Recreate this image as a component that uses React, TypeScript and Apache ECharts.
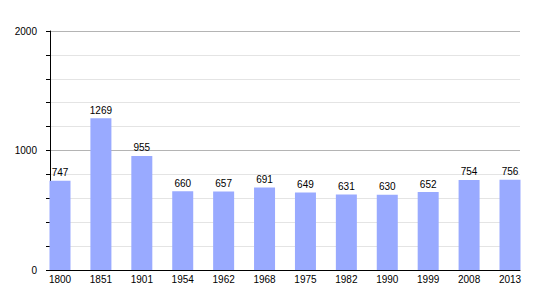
import React, { useEffect, useRef } from "react";
import * as echarts from "echarts";

const categories = ["1800", "1851", "1901", "1954", "1962", "1968", "1975", "1982", "1990", "1999", "2008", "2013"];
const population = [747, 1269, 955, 660, 657, 691, 649, 631, 630, 652, 754, 756];
const yMin = 0;
const yMax = 2000;
const yInterval = 1000;

export default function App() {
  const ref = useRef<HTMLDivElement>(null);
  useEffect(() => {
    if (!ref.current) return;
    const chart = echarts.init(ref.current, undefined, { renderer: "svg" });
    const font = "'Liberation Sans', Arial, sans-serif";
    chart.setOption({
      animation: false,
      backgroundColor: "#ffffff",
      textStyle: { fontFamily: font },
      grid: [
        { left: 50, right: 30, top: 31, bottom: 30, containLabel: false },
        { left: 60, right: 40, top: 31, bottom: 30, containLabel: false },
      ],
      xAxis: [
        {
          gridIndex: 0,
          type: "value",
          min: 0,
          max: 1,
          axisLine: { show: true, onZero: false, lineStyle: { color: "#000", width: 1 } },
          axisTick: { show: false },
          axisLabel: { show: false },
          splitLine: { show: false },
        },
        {
          gridIndex: 1,
          type: "category",
          data: categories,
          boundaryGap: false,
          axisLine: { show: false },
          axisTick: { show: false },
          axisLabel: { color: "#000", fontSize: 10, margin: 4, fontFamily: font },
          splitLine: { show: false },
        },
      ],
      yAxis: [
        {
          gridIndex: 0,
          type: "value",
          min: yMin,
          max: yMax,
          interval: yInterval,
          axisLine: { show: true, lineStyle: { color: "#000", width: 1 } },
          axisTick: { show: true, length: 4, lineStyle: { color: "#000" } },
          minorTick: { show: true, splitNumber: 5, length: 4, lineStyle: { color: "#000" } },
          axisLabel: {
            color: "#000",
            fontSize: 10,
            margin: 13,
            fontFamily: font,
            formatter: (v: number) => String(v),
          },
          splitLine: { show: true, lineStyle: { color: "#b4b4b4", width: 1 } },
          minorSplitLine: { show: true, lineStyle: { color: "#e4e4e4", width: 1 } },
        },
        {
          gridIndex: 1,
          type: "value",
          min: yMin,
          max: yMax,
          show: false,
          splitLine: { show: false },
        },
      ],
      series: [
        {
          type: "bar",
          xAxisIndex: 1,
          yAxisIndex: 1,
          data: population,
          barWidth: 21,
          itemStyle: { color: "#99aaff" },
          label: {
            show: true,
            position: "top",
            distance: 3,
            color: "#000",
            fontSize: 10,
            fontFamily: font,
          },
        },
      ],
    });
    return () => chart.dispose();
  }, []);
  return (
    <div
      ref={ref}
      style={{ position: "fixed", left: 0, top: 0, width: 550, height: 300, background: "#fff" }}
    />
  );
}
